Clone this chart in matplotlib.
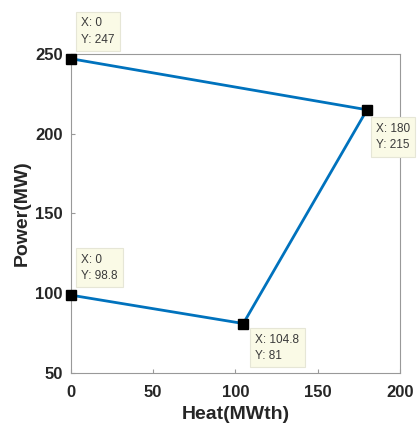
import matplotlib
matplotlib.use('Agg')
import matplotlib.pyplot as plt

plt.rcParams['font.family'] = ['Liberation Sans', 'DejaVu Sans']

# operating region corner points
heat = [0, 180, 104.8, 0]
power = [247, 215, 81, 98.8]

# data tip placement: (dx, dy) in pixels, vertical alignment
tips = [((10, 13), 'bottom'), ((9, -13), 'top'), ((12, -10), 'top'), ((10, 13), 'bottom')]

fig = plt.figure(figsize=(4.17, 4.30), dpi=100)
ax = fig.add_axes([0.170, 0.1326, 0.789, 0.742])

ax.plot(heat, power, color='#0072BD', lw=2, zorder=2)
ax.plot(heat, power, 's', color='black', ms=7, zorder=3, clip_on=False)

for x, y, ((dx, dy), va) in zip(heat, power, tips):
    lbl = 'X: %g\nY: %g' % (x, y)
    ax.annotate(lbl, (x, y), xytext=(dx, dy), textcoords='offset pixels',
                ha='left', va=va, fontsize=8.5, color='#3a3a3a', linespacing=1.5,
                bbox=dict(boxstyle='square,pad=0.45', fc='#FAFAE6', ec='#E6E6D6', lw=0.8),
                annotation_clip=False, zorder=5)

ax.set_xlim(0, 200)
ax.set_ylim(50, 250)
ax.set_xticks([0, 50, 100, 150, 200])
ax.set_yticks([50, 100, 150, 200, 250])
for s in ax.spines.values():
    s.set_color('#999999')
    s.set_linewidth(0.8)
ax.tick_params(direction='in', length=3, color='#999999', labelsize=12, labelcolor='#262626')
ax.tick_params(axis='x', pad=9)
ax.tick_params(axis='y', pad=6)
for t in ax.get_xticklabels() + ax.get_yticklabels():
    t.set_fontweight('bold')

ax.set_xlabel('Heat(MWth)', fontsize=14, fontweight='bold', color='#262626', labelpad=4)
ax.set_ylabel('Power(MW)', fontsize=14, fontweight='bold', color='#262626', labelpad=3)

fig.savefig('out.png', dpi=100)
